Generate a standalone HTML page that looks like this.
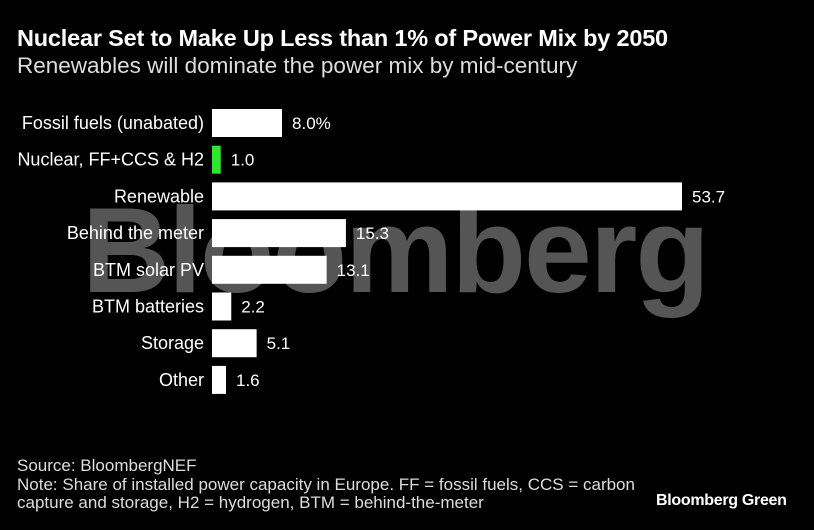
<!DOCTYPE html>
<html><head><meta charset="utf-8"><style>
html,body{margin:0;padding:0;background:#000;}
body{width:814px;height:530px;overflow:hidden;position:relative;font-family:"Liberation Sans",Arial,sans-serif;color:#fff;}
.t{position:absolute;white-space:nowrap;}
</style></head><body>
<div class="t" style="left:17px;top:25px;font-size:23.5px;font-weight:bold;letter-spacing:-0.2px;">Nuclear Set to Make Up Less than 1% of Power Mix by 2050</div>
<div class="t" style="left:17px;top:53px;font-size:22.5px;color:#ddd;">Renewables will dominate the power mix by mid-century</div>
<svg id="chart" width="814" height="530" style="position:absolute;left:0;top:0">
<text x="82" y="292" font-family="Liberation Sans, Arial, sans-serif" font-weight="bold" font-size="122" letter-spacing="-2" fill="#555">Bloomberg</text>
<g id="bars"></g>
</svg>
<div class="t" style="left:17px;top:457px;font-size:17px;line-height:18.5px;color:#ddd;">Source: BloombergNEF<br>Note: Share of installed power capacity in Europe. FF = fossil fuels, CCS = carbon<br>capture and storage, H2 = hydrogen, BTM = behind-the-meter</div>
<div class="t" style="left:656px;top:492px;font-size:16px;font-weight:bold;letter-spacing:-0.3px;">Bloomberg Green</div>
<script>
const categories=["Fossil fuels (unabated)","Nuclear, FF+CCS & H2","Renewable","Behind the meter","BTM solar PV","BTM batteries","Storage","Other"];
const values=[8.0,1.0,53.7,15.3,13.1,2.2,5.1,1.6];
const labels=["8.0%","1.0","53.7","15.3","13.1","2.2","5.1","1.6"];
const highlight=[false,true,false,false,false,false,false,false];
const x0=212,scale=470/53.7,y0=123,step=36.7,bh=28;
const xs=v=>x0+v*scale, ys=i=>y0+i*step;
const g=document.getElementById('bars');
const NS="http://www.w3.org/2000/svg";
categories.forEach((c,i)=>{
 const r=document.createElementNS(NS,'rect');
 
 
 r.setAttribute('x',x0);r.setAttribute('y',ys(i)-bh/2);
 r.setAttribute('width',xs(values[i])-x0);r.setAttribute('height',bh);
 r.setAttribute('fill',highlight[i]?'#2ee62e':'#fff');
 g.appendChild(r);
 const l=document.createElementNS(NS,'text');
 
 
 l.setAttribute('x',x0-8);l.setAttribute('y',ys(i)+6);
 l.setAttribute('text-anchor','end');l.setAttribute('fill','#fff');
 l.setAttribute('font-size','18');l.setAttribute('font-family','Liberation Sans, Arial, sans-serif');
 l.textContent=c;g.appendChild(l);
 const v=document.createElementNS(NS,'text');
 
 
 v.setAttribute('x',xs(values[i])+10);v.setAttribute('y',ys(i)+6);
 v.setAttribute('fill','#fff');
 v.setAttribute('font-size','17');v.setAttribute('font-family','Liberation Sans, Arial, sans-serif');
 v.textContent=labels[i];g.appendChild(v);
});
</script>
</body></html>
